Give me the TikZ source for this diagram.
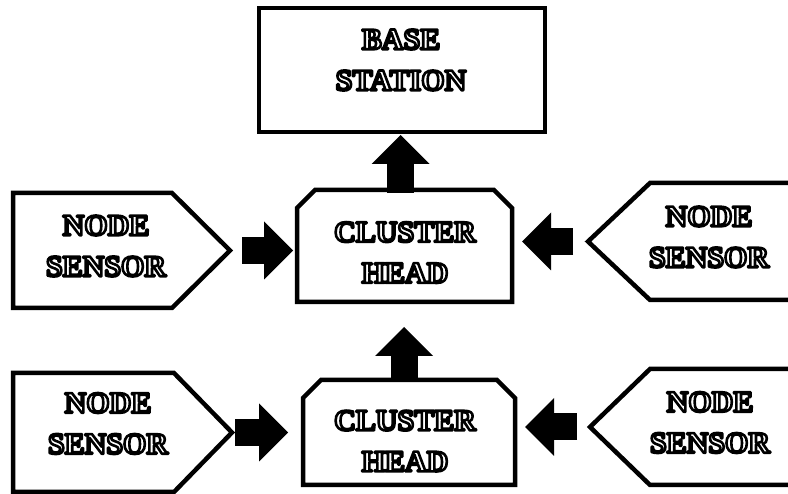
\documentclass[tikz,border=0pt]{standalone}
\usepackage{fontspec}
\setmainfont{Liberation Serif}
\usetikzlibrary{arrows.meta,calc}

% outlined capitals: white fill stroked with a black rim (text render mode 2)
\newcommand{\outl}[1]{\special{pdf:literal direct 0 G 2.6 w 1 j 2 Tr}#1\special{pdf:literal direct 0 Tr}}

\tikzset{
  outline/.style={line width=4.5pt, line join=miter},
  holder/.style={rectangle, inner sep=0pt, outer sep=0pt},
  lbl/.style={text=white, font=\fontsize{30}{41}\selectfont\bfseries,
              align=center, inner sep=0pt},
  blockarrow/.style={line width=27pt,
              -{Triangle[length=29pt,width=58pt,line width=0pt]}},
}

\begin{document}
\begin{tikzpicture}[x=1pt,y=-1pt]
  \useasboundingbox (0,0) rectangle (788,494);
  \clip (0,0) rectangle (788,494);

  % frames of the blocks
  \node[holder, minimum width=286pt, minimum height=124pt] (bs)  at (402,70) {};
  \node[holder, minimum width=215pt, minimum height=112pt] (ch1) at (404.5,246) {};
  \node[holder, minimum width=212pt, minimum height=105pt] (ch2) at (409,432.5) {};
  \node[holder, minimum width=159pt, minimum height=115pt] (ns1) at (92.5,250.5) {};
  \node[holder, minimum width=161pt, minimum height=119pt] (ns2) at (93.5,432.5) {};
  \node[holder, minimum width=160pt, minimum height=117pt] (ns3) at (730,241.5) {};
  \node[holder, minimum width=160pt, minimum height=116pt] (ns4) at (730,427) {};

  \coordinate (ns1tip) at ([xshift=58pt]ns1.east);
  \coordinate (ns2tip) at ([xshift=58pt]ns2.east);
  \coordinate (ns3tip) at ([xshift=-62pt]ns3.west);
  \coordinate (ns4tip) at ([xshift=-60pt]ns4.west);

  % base station
  \draw[outline] (bs.north west) rectangle (bs.south east);

  % cluster heads with cut top corners
  \foreach \c/\k in {ch1/18, ch2/18} {
    \draw[outline] ([xshift=\k pt]\c.north west) -- ([xshift=-\k pt]\c.north east)
      -- ([yshift=-\k pt]\c.north east) -- (\c.south east) -- (\c.south west)
      -- ([yshift=-\k pt]\c.north west) -- cycle;
  }

  % sensor nodes pointing towards the cluster heads
  \draw[outline] (ns1.north west) -- (ns1.north east) -- (ns1tip)
    -- (ns1.south east) -- (ns1.south west) -- cycle;
  \draw[outline] (ns2.north west) -- (ns2.north east) -- (ns2tip)
    -- (ns2.south east) -- (ns2.south west) -- cycle;
  \draw[outline] (ns3.north east) -- (ns3.north west) -- (ns3tip)
    -- (ns3.south west) -- (ns3.south east);
  \draw[outline] (ns4.north east) -- (ns4.north west) -- (ns4tip)
    -- (ns4.south west) -- (ns4.south east);

  % labels
  \node[lbl] (bs-label)  at (401,60)    {\outl{BASE}\\\outl{STATION}};
  \node[lbl] (ch1-label) at (405,252.5) {\outl{CLUSTER}\\\outl{HEAD}};
  \node[lbl] (ch2-label) at (405,441)   {\outl{CLUSTER}\\\outl{HEAD}};
  \node[lbl] (ns1-label) at (106,246)   {\outl{NODE}\\\outl{SENSOR}};
  \node[lbl] (ns2-label) at (108,423.5) {\outl{NODE}\\\outl{SENSOR}};
  \node[lbl] (ns3-label) at (709,237)   {\outl{NODE}\\\outl{SENSOR}};
  \node[lbl] (ns4-label) at (710,422.5) {\outl{NODE}\\\outl{SENSOR}};

  % block arrows
  \draw[blockarrow, shorten <=12pt, shorten >=4pt] (ns1tip) -- (ns1tip -| ch1.west);
  \draw[blockarrow, shorten <=3pt, shorten >=15pt] (ns2tip) -- (ns2tip -| ch2.west);
  \draw[blockarrow, shorten <=15pt, shorten >=10pt] (ns3tip) -- (ns3tip -| ch1.east);
  \draw[blockarrow, shorten <=13pt, shorten >=10pt] (ns4tip) -- (ns4tip -| ch2.east);

  \coordinate (up1) at ([xshift=-4pt]ch1.north);
  \coordinate (up2) at ([xshift=-5pt]ch2.north);
  \draw[blockarrow, shorten <=-3pt, shorten >=3pt] (up1) -- (up1 |- bs.south);
  \draw[blockarrow, shorten >=25pt] (up2) -- (up2 |- ch1.south);
\end{tikzpicture}
\end{document}
